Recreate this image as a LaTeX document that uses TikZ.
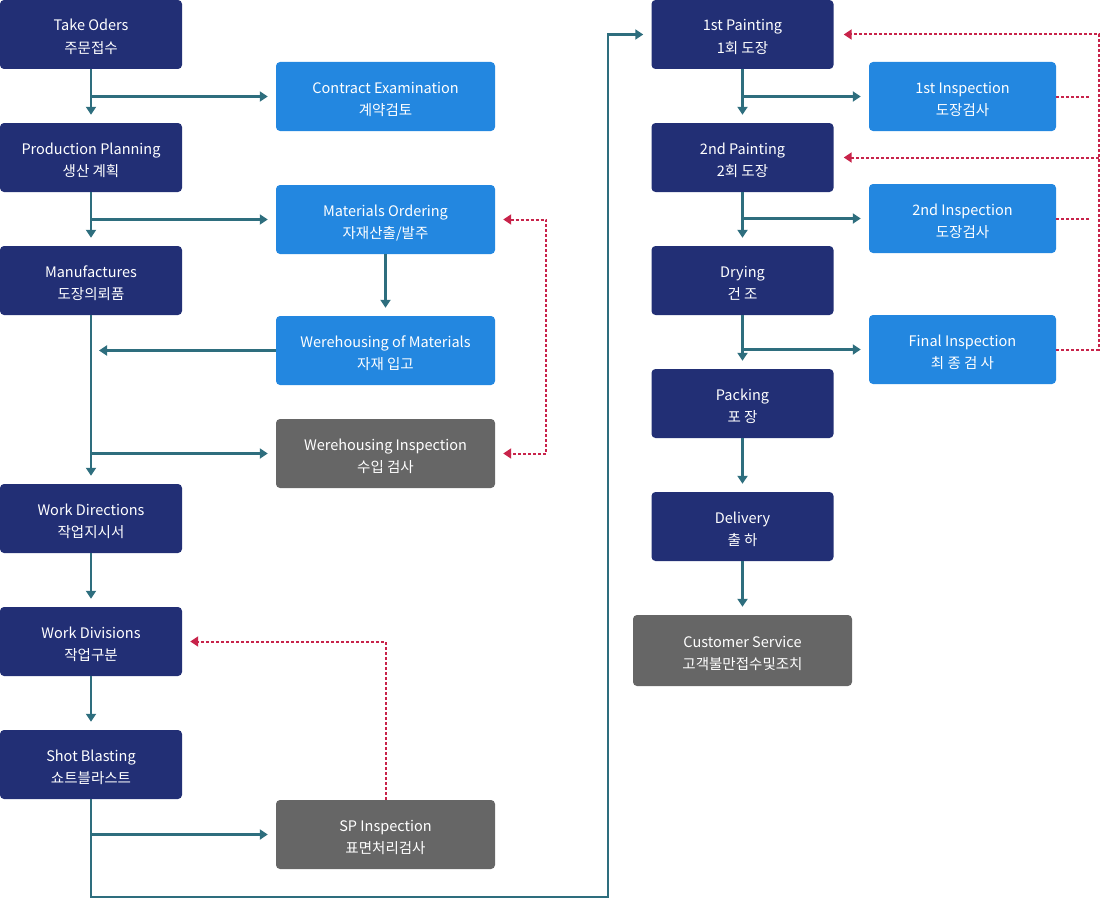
\documentclass[tikz,border=0pt]{standalone}
\usepackage{fontspec}
\setmainfont{Noto Sans CJK KR}
\usetikzlibrary{arrows.meta}

\definecolor{navy}{HTML}{222F75}
\definecolor{skyblue}{HTML}{2387E0}
\definecolor{greybox}{HTML}{666666}
\definecolor{flowcol}{HTML}{2E6E7E}
\definecolor{backcol}{HTML}{C8234A}

\tikzset{
  box/.style={rounded corners=4pt, text=white, align=center, inner sep=0pt,
    font=\fontsize{14.5}{22}\selectfont, minimum height=69pt,
    text height=40pt, text depth=3pt},
  darkbox/.style={box, fill=navy, minimum width=182pt},
  bluebox/.style={box, fill=skyblue, minimum width=219pt},
  greybox/.style={box, fill=greybox, minimum width=219pt},
  rightbox/.style={box, fill=skyblue, minimum width=187pt},
  flow/.style={draw=flowcol, line width=2.2pt, -{Triangle[length=8pt,width=10pt]}, shorten >=8pt},
  back/.style={draw=backcol, line width=2pt, dash pattern=on 3pt off 2pt, shorten >=8pt},
}

\begin{document}
\begin{tikzpicture}[x=1pt,y=-1pt]
  \useasboundingbox (0,0) rectangle (1100,899);

  % left column
  \node[darkbox] (take) at (91,34.5) {Take Oders\\주문접수};
  \node[darkbox] (plan) at (91,157.5) {Production Planning\\생산 계획};
  \node[darkbox] (manuf) at (91,280.5) {Manufactures\\도장의뢰품};
  \node[darkbox] (workdir) at (91,518.5) {Work Directions\\작업지시서};
  \node[darkbox] (workdiv) at (91,641.5) {Work Divisions\\작업구분};
  \node[darkbox] (shot) at (91,764.5) {Shot Blasting\\쇼트블라스트};

  % middle column
  \node[bluebox] (contract) at (385.5,96.5) {Contract Examination\\계약검토};
  \node[bluebox] (matord) at (385.5,219.5) {Materials Ordering\\자재산출/발주};
  \node[bluebox] (whmat) at (385.5,350.5) {Werehousing of Materials\\자재 입고};
  \node[greybox] (whinsp) at (385.5,453.5) {Werehousing Inspection\\수입 검사};
  \node[greybox] (spinsp) at (385.5,834.5) {SP Inspection\\표면처리검사};

  % right columns
  \node[darkbox] (paint1) at (742.5,34.5) {1st Painting\\1회 도장};
  \node[darkbox] (paint2) at (742.5,157.5) {2nd Painting\\2회 도장};
  \node[darkbox] (dry) at (742.5,280.5) {Drying\\건 조};
  \node[darkbox] (pack) at (742.5,403.5) {Packing\\포 장};
  \node[darkbox] (deliv) at (742.5,526.5) {Delivery\\출 하};
  \node[greybox, minimum height=71pt] (custom) at (742.5,650.5) {Customer Service\\고객불만접수및조치};
  \node[rightbox] (insp1) at (962.5,96.5) {1st Inspection\\도장검사};
  \node[rightbox] (insp2) at (962.5,218.5) {2nd Inspection\\도장검사};
  \node[rightbox] (final) at (962.5,349.5) {Final Inspection\\최 종 검 사};

  \coordinate (turn) at (608,897);
  \coordinate (rtop) at (1099,34.5);

  % main flow
  \draw[flow] (take) -- (plan);
  \draw[flow] (take |- contract) -- (contract);
  \draw[flow] (plan) -- (manuf);
  \draw[flow] (plan |- matord) -- (matord);
  \draw[flow] (matord) -- (whmat);
  \draw[flow] (whmat) -- (manuf |- whmat);
  \draw[flow] (manuf) -- (workdir);
  \draw[flow] (manuf |- whinsp) -- (whinsp);
  \draw[flow] (workdir) -- (workdiv);
  \draw[flow] (workdiv) -- (shot);
  \draw[flow] (shot |- spinsp) -- (spinsp);
  \draw[flow] (shot.south) |- (turn) |- (paint1);
  \draw[flow] (paint1) -- (paint2);
  \draw[flow] (paint1 |- insp1) -- (insp1);
  \draw[flow] (paint2) -- (dry);
  \draw[flow] (paint2 |- insp2) -- (insp2);
  \draw[flow] (dry) -- (pack);
  \draw[flow] (dry |- final) -- (final);
  \draw[flow] (pack) -- (deliv);
  \draw[flow] (deliv) -- (custom);

  % feedback
  \draw[back, {Triangle[length=8pt,width=10pt]}-{Triangle[length=8pt,width=10pt]}, shorten <=8pt]
    (matord.east) -- ++(51,0) |- (whinsp.east);
  \draw[back, -{Triangle[length=8pt,width=10pt]}] (spinsp.north) |- (workdiv.east);
  \draw[back, -{Triangle[length=8pt,width=10pt]}, shorten >=10pt] (final.east) -| (rtop) -- (paint1.east);
  \draw[back] (insp1.east) -- (insp1.east -| rtop);
  \draw[back] (insp2.east) -- (insp2.east -| rtop);
  \draw[back, -{Triangle[length=8pt,width=10pt]}, shorten >=10pt] (paint2.east -| rtop) -- (paint2.east);
\end{tikzpicture}
\end{document}
